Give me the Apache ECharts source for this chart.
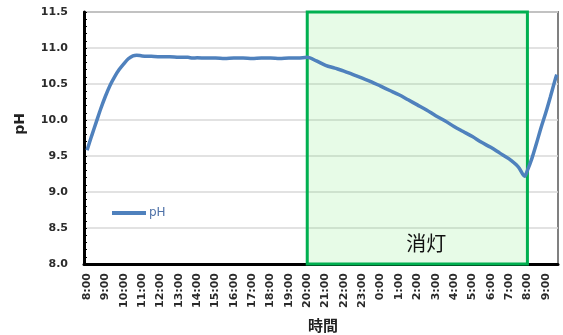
<!DOCTYPE html>
<html>
<head>
<meta charset="utf-8">
<script src="https://cdn.jsdelivr.net/npm/echarts@6/dist/echarts.min.js"></script>
<style>
  html, body { margin: 0; padding: 0; background: #ffffff; }
  #chart { width: 563px; height: 335px; }
</style>
</head>
<body>
<div id="chart"></div>
<script>
// Elapsed clock hours (values past 24 belong to the next morning)
var hours = [
  8.0, 8.25, 8.5, 8.75, 9.0, 9.25, 9.5, 9.75, 10.0, 10.25, 10.5, 10.7,
  11.0, 11.5, 12.0, 12.5, 13.0, 13.5, 13.75, 14.0, 14.5, 15.0, 15.5, 16.0,
  16.5, 17.0, 17.5, 18.0, 18.5, 19.0, 19.5, 20.0,
  20.5, 21.0, 21.5, 22.0, 22.5, 23.0, 23.5, 24.0, 24.5, 25.0, 25.5, 26.0,
  26.5, 27.0, 27.5, 28.0, 28.5, 29.0, 29.5, 30.0, 30.5, 31.0, 31.5, 31.85,
  32.0, 32.25, 32.5, 32.75, 33.0, 33.25, 33.5, 33.6
];
// Measured pH
var phValues = [
  9.58, 9.78, 9.97, 10.16, 10.33, 10.48, 10.60, 10.70, 10.78, 10.85, 10.89, 10.90,
  10.89, 10.885, 10.88, 10.88, 10.87, 10.87, 10.86, 10.865, 10.86, 10.86, 10.855, 10.86,
  10.86, 10.855, 10.86, 10.86, 10.855, 10.86, 10.86, 10.87,
  10.82, 10.76, 10.72, 10.68, 10.63, 10.58, 10.53, 10.47, 10.41, 10.35, 10.28, 10.21,
  10.14, 10.06, 9.99, 9.91, 9.84, 9.77, 9.69, 9.62, 9.54, 9.46, 9.35, 9.22,
  9.30, 9.47, 9.68, 9.90, 10.10, 10.32, 10.55, 10.63
];
// Hourly tick positions and their labels
var tickHours = [8, 9, 10, 11, 12, 13, 14, 15, 16, 17, 18, 19, 20, 21, 22, 23, 24,
  25, 26, 27, 28, 29, 30, 31, 32, 33];
var tickLabels = ['8:00', '9:00', '10:00', '11:00', '12:00', '13:00', '14:00', '15:00',
  '16:00', '17:00', '18:00', '19:00', '20:00', '21:00', '22:00', '23:00', '0:00',
  '1:00', '2:00', '3:00', '4:00', '5:00', '6:00', '7:00', '8:00', '9:00'];
// Lights-off period
var lightsOff = [20, 32];
var lightsOffLabel = '消灯';

var seriesData = hours.map(function (h, i) { return [h, phValues[i]]; });

var chart = echarts.init(document.getElementById('chart'), null, { renderer: 'canvas' });
var labelFont = 'DejaVu Sans';
chart.setOption({
  animation: false,
  grid: {
    left: 84, right: 5, top: 12, bottom: 71,
    outerBoundsMode: 'none',
    containLabel: false,
    show: true, borderColor: '#808080', borderWidth: 2, backgroundColor: 'transparent'
  },
  legend: {
    left: 107, top: 202,
    icon: 'rect', itemWidth: 34, itemHeight: 4, itemGap: 4,
    data: ['pH'],
    textStyle: { color: '#4f72a8', fontSize: 12, fontFamily: labelFont, padding: [0, 0, 0, -2] }
  },
  xAxis: {
    type: 'value',
    min: 7.833, max: 33.667,
    name: '時間', nameLocation: 'middle', nameGap: 54,
    nameTextStyle: { fontSize: 15, fontWeight: 'bold', color: '#222', fontFamily: 'Noto Sans CJK JP', padding: [0, 0, 0, 4] },
    axisLine: { show: true, lineStyle: { color: '#000', width: 3 } },
    axisTick: { show: false },
    splitLine: { show: false },
    axisLabel: {
      customValues: tickHours,
      rotate: 90, margin: 9,
      fontSize: 11, fontWeight: 'bold', color: '#2b2b2b', fontFamily: labelFont,
      formatter: function (v) {
        var idx = tickHours.indexOf(Math.round(v));
        return idx >= 0 ? tickLabels[idx] : '';
      }
    }
  },
  yAxis: {
    type: 'value',
    min: 8, max: 11.5, interval: 0.5,
    name: 'pH', nameLocation: 'middle', nameGap: 57,
    nameTextStyle: { fontSize: 14, fontWeight: 'bold', color: '#222', fontFamily: labelFont, padding: [0, 0, 0, 28] },
    axisLine: { show: true, lineStyle: { color: '#000', width: 3 } },
    axisTick: { show: true, inside: true, length: 3, lineStyle: { color: '#000', width: 1 } },
    minorTick: { show: true, splitNumber: 5, length: 3, lineStyle: { color: '#000', width: 1 } },
    splitLine: { show: true, lineStyle: { color: '#d9d9d9', width: 1.5 } },
    axisLabel: {
      margin: 16,
      fontSize: 11, fontWeight: 'bold', color: '#2b2b2b', fontFamily: labelFont,
      formatter: function (v) { return v.toFixed(1); }
    }
  },
  series: [
    {
      name: 'lights-off',
      type: 'line',
      data: [],
      z: 1,
      markArea: {
        silent: true,
        itemStyle: {
          color: 'rgba(60, 220, 60, 0.12)',
          borderColor: '#00b050',
          borderWidth: 3
        },
        label: {
          show: true,
          position: ['50%', '92%'],
          offset: [9, -2],
          align: 'center',
          verticalAlign: 'middle',
          fontSize: 20,
          color: '#111',
          fontFamily: 'Noto Sans CJK JP'
        },
        data: [[
          { name: lightsOffLabel, xAxis: lightsOff[0], yAxis: 11.5 },
          { xAxis: lightsOff[1], yAxis: 8 }
        ]]
      }
    },
    {
      name: 'pH',
      type: 'line',
      data: seriesData,
      z: 5,
      showSymbol: false,
      smooth: 0.3,
      lineStyle: { color: '#4f81bd', width: 3.5 },
      itemStyle: { color: '#4f81bd' }
    }
  ]
});
</script>
</body>
</html>
